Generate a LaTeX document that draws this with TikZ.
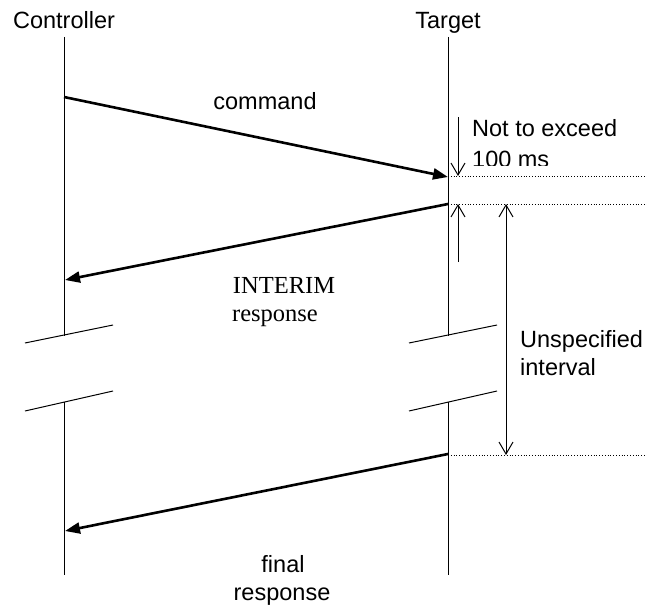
\documentclass[tikz,border=0pt]{standalone}
\usepackage{fontspec}
\setmainfont{Liberation Sans}
\newfontfamily\timesfont{Liberation Serif}
\usetikzlibrary{arrows.meta}
\tikzset{
  lifeline/.style={line width=1pt},
  breakmark/.style={line width=1pt},
  msg/.style={line width=2.6pt,-{Triangle[length=15pt,width=11pt]}},
  guide/.style={line width=0.8pt,dotted},
  dim/.style={line width=1pt,-{Straight Barb[length=12pt,width=14pt,line width=1pt]}},
  dimboth/.style={line width=1pt,{Straight Barb[length=12pt,width=14pt,line width=1pt]}-{Straight Barb[length=12pt,width=14pt,line width=1pt]}},
  lbl/.style={font=\fontsize{23.5}{27}\selectfont,inner sep=0pt,anchor=base},
  lblserif/.style={font=\timesfont\fontsize{24.5}{28}\selectfont,inner sep=0pt,anchor=base},
}
\begin{document}
\begin{tikzpicture}[x=1pt,y=-1pt]
\useasboundingbox (0,0) rectangle (647,607);

% lifeline end points
\coordinate (c0) at (64,37);   \coordinate (c1) at (64,336);
\coordinate (c2) at (64,402);  \coordinate (c3) at (64,575);
\coordinate (t0) at (448,37);  \coordinate (t1) at (448,336);
\coordinate (t2) at (448,402); \coordinate (t3) at (448,575);

% message end points
\coordinate (cmdS) at (64,97);   \coordinate (cmdE) at (448,177);
\coordinate (intS) at (448,204); \coordinate (intE) at (65,280);
\coordinate (finS) at (448,454); \coordinate (finE) at (65,531);

% headers
\node[lbl] (hc) at (64,29) {Controller};
\node[lbl] (ht) at (448,29) {Target};

% lifelines
\draw[lifeline] (c0) -- (c1);
\draw[lifeline] (c2) -- (c3);
\draw[lifeline] (t0) -- (t1);
\draw[lifeline] (t2) -- (t3);

% break marks
\coordinate (bc1a) at (25,343); \coordinate (bc1b) at (113,325);
\coordinate (bc2a) at (25,411); \coordinate (bc2b) at (113,391);
\coordinate (bt1a) at (409,343); \coordinate (bt1b) at (497,325);
\coordinate (bt2a) at (409,411); \coordinate (bt2b) at (497,391);
\draw[breakmark] (bc1a) -- (bc1b);
\draw[breakmark] (bc2a) -- (bc2b);
\draw[breakmark] (bt1a) -- (bt1b);
\draw[breakmark] (bt2a) -- (bt2b);

% messages
\draw[msg] (cmdS) -- (cmdE);
\draw[msg] (intS) -- (intE);
\draw[msg] (finS) -- (finE);

\node[lbl] (lcmd) at (265,110) {command};
\node[lblserif] (lint1) at (284,293) {INTERIM};
\node[lblserif] (lint2) at (275,321) {response};
\node[lbl] (lfin1) at (283,572) {final};
\node[lbl] (lfin2) at (282,600) {response};

% timing guides
\coordinate (g1a) at (448,176); \coordinate (g1b) at (647,176);
\coordinate (g2a) at (448,204); \coordinate (g2b) at (647,204);
\coordinate (g3a) at (448,455); \coordinate (g3b) at (647,455);
\draw[guide] (g1a) -- (g1b);
\draw[guide] (g2a) -- (g2b);
\draw[guide] (g3a) -- (g3b);

% 100 ms limit
\coordinate (d1a) at (458,117); \coordinate (d1b) at (458,176);
\coordinate (d2a) at (458,262); \coordinate (d2b) at (458,204);
\draw[dim] (d1a) -- (d1b);
\draw[dim] (d2a) -- (d2b);
\node[lbl,anchor=base west] (lnte) at (472,136) {Not to exceed};
\begin{scope}
  \clip (465,110) rectangle (647,165);
  \node[lbl,anchor=base west] (lms) at (472,167) {100 ms};
\end{scope}

% unspecified interval
\coordinate (u1) at (506,204); \coordinate (u2) at (506,455);
\draw[dimboth] (u1) -- (u2);
\node[lbl,anchor=base west] (lun1) at (520,347) {Unspecified};
\node[lbl,anchor=base west] (lun2) at (520,375) {interval};
\end{tikzpicture}
\end{document}
